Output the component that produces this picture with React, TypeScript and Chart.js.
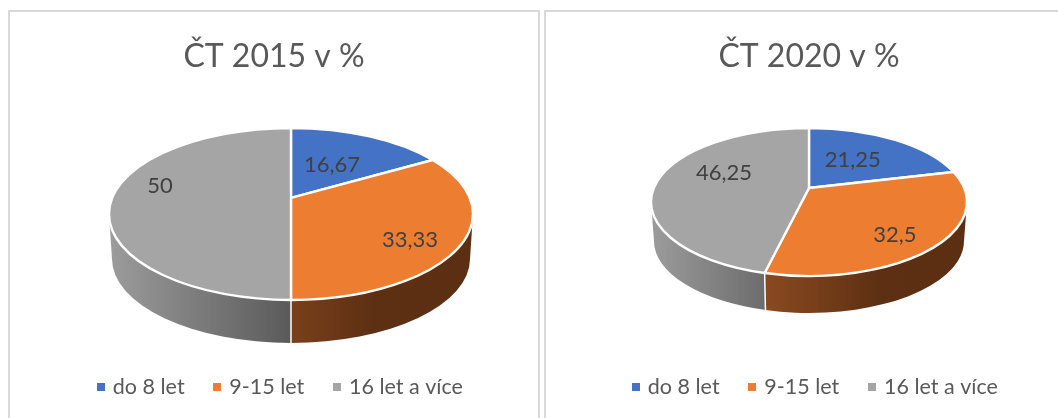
import React, { useEffect, useRef } from "react";
import { Chart, registerables, ArcElement, PieController } from "chart.js";

const categories = ["do 8 let", "9-15 let", "16 let a více"];
const values2015 = [16.67, 33.33, 50];
const values2020 = [21.25, 32.5, 46.25];
const title2015 = "ČT 2015 v %";
const title2020 = "ČT 2020 v %";
const labels2015 = ["16,67", "33,33", "50"];
const labels2020 = ["21,25", "32,5", "46,25"];
const colors = ["#4472c4", "#ed7d31", "#a5a5a5"];
const FONT = "Lato, 'Open Sans', sans-serif";

type Scene = {
  radius: number; dx: number; dy: number; squash: number; p: number; depth: number;
  labelPos: number[][]; labelText: string[]; legendDx: number;
};

function ellipseOf(el: any, s: Scene) {
  return { cx: el.x + s.dx, cy: el.y + s.dy, rx: el.outerRadius, ry: el.outerRadius * s.squash };
}
// Perspective map of the pie's unit disk onto the tilted ellipse: the apex sits off-centre.
function project(theta: number, p: number, k = 1) {
  const u = k * Math.cos(theta), v = k * Math.sin(theta);
  const w = 1 + p * v;
  return { x: (u * Math.sqrt(1 - p * p)) / w, y: (v + p) / w };
}
function param(theta: number, p: number) {
  const q = project(theta, p);
  let a = Math.atan2(q.y, q.x);
  if (a < -Math.PI / 2 - 1e-6) a += Math.PI * 2;
  return a;
}

class Arc3D extends ArcElement {
  static id = "arc3d";
  scene?: Scene;
  draw(ctx: CanvasRenderingContext2D) {
    const s = this.scene;
    if (!s) return;
    const e = ellipseOf(this, s);
    const a0 = param(this.startAngle, s.p);
    let a1 = param(this.endAngle, s.p);
    if (a1 <= a0) a1 += Math.PI * 2;
    const ap = project(0, s.p, 0);
    ctx.save();
    ctx.beginPath();
    ctx.moveTo(e.cx + ap.x * e.rx, e.cy + ap.y * e.ry);
    ctx.ellipse(e.cx, e.cy, e.rx, e.ry, 0, a0, a1);
    ctx.closePath();
    ctx.fillStyle = this.options.backgroundColor;
    ctx.fill();
    ctx.strokeStyle = "#ffffff";
    ctx.lineWidth = 2.4;
    ctx.lineJoin = "round";
    ctx.stroke();
    ctx.restore();
  }
}

class Pie3DController extends PieController {
  static id = "pie3d";
  static defaults = { dataElementType: "arc3d" };
}

Chart.register(...registerables, Arc3D, Pie3DController);

function wallGradient(ctx: CanvasRenderingContext2D, e: any, i: number) {
  const g = ctx.createLinearGradient(e.cx - e.rx, 0, e.cx + e.rx, 0);
  if (i === 1) {
    g.addColorStop(0, "#a05a28");
    g.addColorStop(0.36, "#8a4a20");
    g.addColorStop(0.72, "#5e3013");
    g.addColorStop(1, "#5c2f12");
  } else if (i === 2) {
    g.addColorStop(0, "#9c9c9c");
    g.addColorStop(0.5, "#5a5a5a");
    g.addColorStop(1, "#5a5a5a");
  } else {
    g.addColorStop(0, "#2a4478");
    g.addColorStop(1, "#2a4478");
  }
  return g;
}

function swatch(color: string) {
  const c = document.createElement("canvas");
  c.width = 8;
  c.height = 8;
  const g = c.getContext("2d") as CanvasRenderingContext2D;
  g.fillStyle = color;
  g.fillRect(0, 0, 8, 8);
  return c;
}

const pie3dPlugin = {
  id: "pie3d",
  afterLayout(chart: any, _a: any, opts: any) {
    chart.legend.left += opts.scene.legendDx;
    chart.legend.right += opts.scene.legendDx;
  },
  beforeDatasetsDraw(chart: any, _a: any, opts: any) {
    const s: Scene = opts.scene;
    const ctx = chart.ctx;
    const arcs = chart.getDatasetMeta(0).data;
    arcs.forEach((el: any, i: number) => {
      el.scene = s;
      const e = ellipseOf(el, s);
      const a0 = param(el.startAngle, s.p);
      let a1 = param(el.endAngle, s.p);
      if (a1 <= a0) a1 += Math.PI * 2;
      const from = Math.max(a0, 0);
      const to = Math.min(a1, Math.PI);
      if (to <= from) return;
      const brx = e.rx - 3;
      const bry = e.ry - 2;
      const bcy = e.cy + e.ry + s.depth - bry;
      ctx.save();
      ctx.beginPath();
      ctx.ellipse(e.cx, e.cy, e.rx, e.ry, 0, from, to);
      ctx.ellipse(e.cx, bcy, brx, bry, 0, to, from, true);
      ctx.closePath();
      ctx.fillStyle = wallGradient(ctx, e, i);
      ctx.fill();
      ctx.strokeStyle = "#ffffff";
      ctx.lineWidth = 1.5;
      ctx.beginPath();
      if (from > 0) {
        ctx.moveTo(e.cx + e.rx * Math.cos(from), e.cy + e.ry * Math.sin(from));
        ctx.lineTo(e.cx + brx * Math.cos(from), bcy + bry * Math.sin(from));
      }
      ctx.stroke();
      ctx.restore();
    });
  },
  afterDatasetsDraw(chart: any, _a: any, opts: any) {
    const s: Scene = opts.scene;
    const ctx = chart.ctx;
    const el = chart.getDatasetMeta(0).data[0];
    const e = ellipseOf(el, s);
    ctx.save();
    ctx.font = `22px ${FONT}`;
    ctx.fillStyle = "#404040";
    ctx.textAlign = "center";
    ctx.textBaseline = "middle";
    s.labelText.forEach((t, i) => {
      ctx.fillText(t, e.cx + s.labelPos[i][0] * e.rx, e.cy + s.labelPos[i][1] * e.ry);
    });
    ctx.restore();
  },
};

function PieCard(props: {
  title: string; values: number[]; scene: Scene;
  style: React.CSSProperties;
}) {
  const ref = useRef<HTMLCanvasElement | null>(null);
  useEffect(() => {
    const chart = new Chart(ref.current as HTMLCanvasElement, {
      type: "pie3d" as any,
      data: {
        labels: categories,
        datasets: [{ data: props.values, backgroundColor: colors, borderColor: "#ffffff", borderWidth: 2 }],
      },
      options: {
        animation: false,
        responsive: false,
        radius: props.scene.radius,
        layout: { padding: { bottom: 10, top: 0 } },
        plugins: {
          title: {
            display: true,
            text: props.title,
            color: "#595959",
            font: { family: FONT, size: 32, weight: "normal" },
            padding: { top: 25, bottom: 10 },
          },
          legend: {
            position: "bottom",
            labels: {
              color: "#595959",
              usePointStyle: true,
              pointStyleWidth: 3,
              boxHeight: 8,
              padding: 31,
              font: { family: FONT, size: 21.5 },
              generateLabels: (c: any) =>
                (PieController as any).overrides.plugins.legend.labels
                  .generateLabels(c)
                  .map((l: any, i: number) => ({ ...l, lineWidth: 0, strokeStyle: "transparent", pointStyle: swatch(colors[i]) })),
            },
          },
          tooltip: { enabled: false },
          pie3d: { scene: props.scene },
        } as any,
      } as any,
      plugins: [pie3dPlugin],
    });
    return () => chart.destroy();
  }, []);
  return (
    <div style={{ position: "absolute", boxSizing: "border-box", border: "2px solid #d9d9d9", borderBottom: "none", background: "#fff", ...props.style }}>
      <canvas ref={ref} width={parseInt(String(props.style.width)) - 4} height={406} style={{ display: "block" }} />
    </div>
  );
}

const scene2015: Scene = {
  radius: 182, dx: 17, dy: -1.5, squash: 86 / 182, p: -0.186, depth: 43,
  labelPos: [[0.225, -0.57], [0.654, 0.3], [-0.72, -0.33]], labelText: labels2015, legendDx: 7,
};
const scene2020: Scene = {
  radius: 158, dx: 0, dy: -13.5, squash: 74 / 158, p: -0.189, depth: 37,
  labelPos: [[0.277, -0.57], [0.544, 0.446], [-0.538, -0.39]], labelText: labels2020, legendDx: 7,
};

export default function App() {
  return (
    <div style={{ position: "fixed", left: 0, top: 0, width: 1058, height: 418, overflow: "hidden", background: "#fff" }}>
      <PieCard title={title2015} values={values2015} scene={scene2015}
        style={{ left: 8, top: 10, width: 532, height: 408 }} />
      <PieCard title={title2020} values={values2020} scene={scene2020}
        style={{ left: 544, top: 10, width: 530, height: 408 }} />
    </div>
  );
}
